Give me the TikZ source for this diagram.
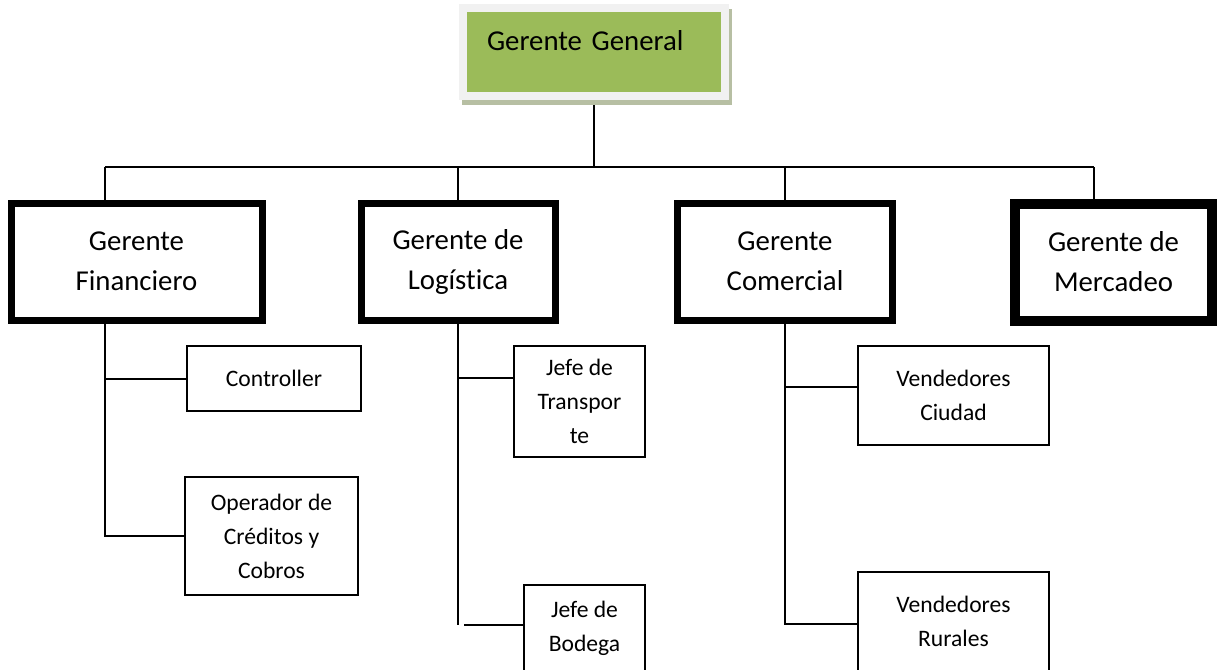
\documentclass[tikz,border=0pt]{standalone}
\usepackage{fontspec}
\setmainfont{Carlito}[Ligatures=NoCommon]
\definecolor{verdegg}{RGB}{155,187,89}
\definecolor{marcogg}{RGB}{241,241,241}
\definecolor{sombragg}{RGB}{183,191,163}
\begin{document}
\begin{tikzpicture}[x=0.5pt,y=-0.5pt]
      \useasboundingbox (0,0) rectangle (1217,670);
      \tikzstyle {gerente} = [shape=rectangle, draw=black, line width=3.5pt, minimum height=58.5pt, inner sep=0pt, align=center, font=\fontsize{14.4}{20}\selectfont];
      \tikzstyle {cargo} = [shape=rectangle, draw=black, line width=1pt, inner sep=0pt, align=center, font=\fontsize{11.8}{17}\selectfont];
      \tikzstyle {linea} = [line width=1pt];
      \node (ggs) [fill=sombragg, minimum width=135pt, minimum height=48pt, inner sep=0pt] at (597,57) {};
      \node (gg) [fill=verdegg, draw=marcogg, line width=4pt, minimum width=131pt, minimum height=44pt, inner xsep=12pt, inner ysep=0pt, text width=107pt, align=left, text height=10pt, text depth=12pt, font=\fontsize{14.4}{20}\selectfont] at (594,52) {Gerente General};
      \node (gf) [gerente, minimum width=125.5pt] at (136.5,261.5) {Gerente\\Financiero};
      \node (gl) [gerente, minimum width=97pt] at (458,261.5) {Gerente de\\Logística};
      \node (gc) [gerente, minimum width=107.75pt] at (785,261.5) {Gerente\\Comercial};
      \node (gm) [gerente, line width=5pt, minimum width=98.5pt] at (1113.5,262) {Gerente de\\Mercadeo};
      \node (ctrl) [cargo, minimum width=87pt, minimum height=32.5pt] at (274,378.5) {Controller};
      \node (oper) [cargo, minimum width=86.5pt, minimum height=59pt] at (271.5,536) {Operador de\\Créditos y\\Cobros};
      \node (trans) [cargo, minimum width=65.5pt, minimum height=55.5pt] at (579.5,401.5) {Jefe de\\Transpor\\te};
      \node (bod) [cargo, minimum width=60.5pt, minimum height=43.5pt] at (584.5,628.5) {Jefe de\\Bodega};
      \node (ciu) [cargo, minimum width=95.5pt, minimum height=49.5pt] at (953.5,395.5) {Vendedores\\Ciudad};
      \node (rur) [cargo, minimum width=95.5pt, minimum height=49.5pt] at (953.5,621.5) {Vendedores\\Rurales};
      \coordinate (bf) at (105,167);
      \coordinate (bm) at (1094,167);
      \coordinate (lt) at (458,378);
      \coordinate (lb) at (458,625);
      \coordinate (cc) at (785,387);
      \coordinate (cr) at (785,624);
      \draw [linea] (gg.south |- ggs.south) -- (gg.south |- bf);
      \draw [linea] (bf) -- (bm);
      \draw [linea] (bf) -- (bf |- gf.north);
      \draw [linea] (gl.north |- bf) -- (gl.north);
      \draw [linea] (gc.north |- bf) -- (gc.north);
      \draw [linea] (bm) -- (bm |- gm.north);
      \draw [linea] (bf |- gf.south) |- (oper.west);
      \draw [linea] (bf |- ctrl.west) -- (ctrl.west);
      \draw [linea] (gl.south) -- (lb);
      \draw [linea] (lt) -- (lt -| trans.west);
      \draw [linea] ([xshift=3pt]lb) -- (lb -| bod.west);
      \draw [linea] (gc.south) -- (cr) -- (cr -| rur.west);
      \draw [linea] (cc) -- (cc -| ciu.west);
    \end{tikzpicture}
\end{document}
